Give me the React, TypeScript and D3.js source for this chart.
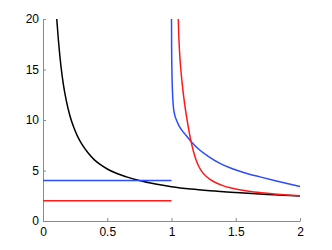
import { useEffect, useRef } from "react";
import * as d3 from "d3";

// values
const BLACK_X = [0.107, 0.12, 0.14, 0.16, 0.18, 0.21, 0.24, 0.27, 0.3, 0.35, 0.4, 0.45, 0.5, 0.575, 0.65, 0.75, 0.875, 1.0, 1.15, 1.3, 1.5, 1.75, 2.0];
const BLACK_Y = [20, 17.9, 15.3, 13.4, 12.0, 10.4, 9.25, 8.35, 7.65, 6.75, 6.05, 5.55, 5.15, 4.7, 4.37, 4.0, 3.66, 3.4, 3.17, 3.0, 2.82, 2.63, 2.48];

const BLUE_X = [1.0, 1.001, 1.003, 1.007, 1.014, 1.025, 1.04, 1.06, 1.08, 1.105, 1.152, 1.208, 1.28, 1.377, 1.45, 1.52, 1.6, 1.689, 1.8, 1.9, 2.0];
const BLUE_Y = [20, 17.2, 15.0, 13.0, 11.4, 10.5, 9.95, 9.4, 9.0, 8.6, 7.88, 7.15, 6.45, 5.71, 5.3, 4.98, 4.66, 4.37, 4.02, 3.71, 3.42];

const RED_X = [1.053, 1.056, 1.06, 1.066, 1.074, 1.085, 1.1, 1.115, 1.13, 1.152, 1.17, 1.19, 1.21, 1.235, 1.265, 1.3, 1.35, 1.4, 1.45, 1.5, 1.6, 1.7, 1.8, 1.9, 2.0];
const RED_Y = [20, 18.6, 17.4, 16.1, 14.8, 13.4, 11.8, 10.5, 9.35, 7.88, 6.93, 6.09, 5.47, 4.92, 4.48, 4.13, 3.76, 3.5, 3.31, 3.16, 2.95, 2.8, 2.68, 2.58, 2.5];

// flat segments on [0, 1]
const FLAT_X = [0, 1];
const BLUE_FLAT = [4, 4];
const RED_FLAT = [2, 2];

const X_TICKS = [0, 0.5, 1, 1.5, 2];
const Y_TICKS = [0, 5, 10, 15, 20];

const BLUE = "#2b4cff";
const RED = "#ff1a1a";

const SERIES = [
  { xs: BLACK_X, ys: BLACK_Y, color: "#000000" },
  { xs: BLUE_X, ys: BLUE_Y, color: BLUE },
  { xs: RED_X, ys: RED_Y, color: RED },
  { xs: FLAT_X, ys: BLUE_FLAT, color: BLUE },
  { xs: FLAT_X, ys: RED_FLAT, color: RED },
];

export default function App() {
  const svgRef = useRef<SVGSVGElement | null>(null);

  useEffect(() => {
    const svg = d3.select(svgRef.current);
    svg.selectAll("*").remove();

    const x = d3.scaleLinear().domain([0, 2]).range([43, 300]);
    const y = d3.scaleLinear().domain([0, 20]).range([221, 19]);

    // ----- Axes -----
    const axisColor = "#8a8a8a";
    const font = "Liberation Sans, Arial, Helvetica, sans-serif";

    const xAxis = svg.append("g")
      .attr("transform", `translate(0,${y(0)})`)
      .call(d3.axisBottom(x).tickValues(X_TICKS).tickSizeInner(-3).tickSizeOuter(0).tickPadding(6)
        .tickFormat((d) => d3.format("")(d as number)));
    xAxis.select(".domain").attr("stroke", axisColor);
    xAxis.selectAll(".tick line").attr("stroke", axisColor);
    xAxis.selectAll("text").attr("fill", "#000").attr("font-size", 12).attr("font-family", font);

    const yAxis = svg.append("g")
      .attr("transform", `translate(${x(0)},0)`)
      .call(d3.axisLeft(y).tickValues(Y_TICKS).tickSizeInner(-3).tickSizeOuter(0).tickPadding(4));
    yAxis.select(".domain").attr("stroke", axisColor);
    yAxis.selectAll(".tick line").attr("stroke", axisColor);
    yAxis.selectAll("text").attr("fill", "#000").attr("font-size", 12).attr("font-family", font);

    // ----- Lines -----
    SERIES.forEach((s) => {
      const pts = s.xs.map((v, i) => [v, s.ys[i]] as [number, number]);
      const line = d3.line<[number, number]>()
        .x((d) => x(d[0]))
        .y((d) => y(d[1]))
        .curve(d3.curveMonotoneX);
      svg.append("path")
        .datum(pts)
        .attr("fill", "none")
        .attr("stroke", s.color)
        .attr("stroke-width", 1.5)
        .attr("d", line);
    });
  }, []);

  return (
    <svg
      ref={svgRef}
      width={332}
      height={250}
      style={{ position: "absolute", left: 0, top: 0, background: "#fff" }}
    />
  );
}
